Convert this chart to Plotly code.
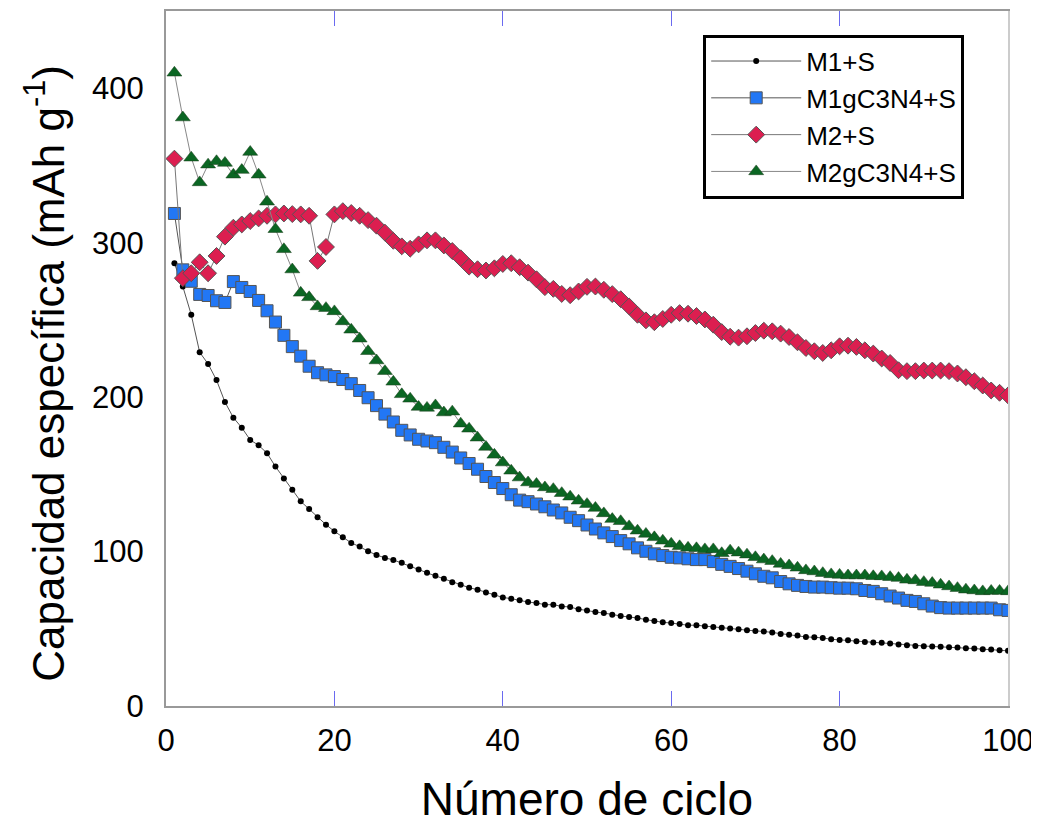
import plotly.graph_objects as go

cycles = list(range(1, 101))

m1_s = [286.6, 271.6, 253.3, 229.0, 221.5, 211.0, 196.8, 186.7, 180.2, 172.3,
        168.8, 163.7, 155.0, 147.3, 140.0, 132.5, 127.5, 122.2, 117.4, 113.1,
        109.2, 105.6, 103.2, 100.2, 97.8, 95.9, 94.6, 92.7, 90.5, 88.4,
        86.2, 84.3, 82.4, 80.2, 78.5, 76.6, 75.3, 73.5, 72.1, 70.3,
        69.5, 68.4, 67.3, 66.7, 65.6, 65.6, 64.5, 64.1, 62.6, 61.9,
        60.8, 60.2, 59.1, 58.3, 57.6, 57.0, 55.9, 55.0, 54.2, 53.7,
        53.1, 52.3, 52.3, 51.6, 51.2, 50.7, 50.1, 49.7, 49.0, 48.6,
        48.3, 47.6, 46.6, 46.2, 45.6, 44.7, 44.5, 44.1, 43.2, 42.8,
        42.6, 41.9, 41.5, 41.1, 40.9, 40.4, 39.8, 39.4, 38.9, 38.7,
        38.5, 38.3, 38.1, 37.8, 37.4, 37.2, 36.8, 36.6, 36.1, 35.7]

m1_gc3n4_s = [318.9, 282.4, 275.0, 266.5, 265.8, 262.4, 261.3, 274.8, 271.0, 268.4,
              262.6, 255.9, 248.6, 240.0, 232.7, 226.5, 220.0, 215.8, 214.4, 213.3,
              211.4, 208.7, 204.3, 199.6, 194.5, 189.0, 183.9, 178.5, 175.5, 172.7,
              171.6, 170.5, 167.5, 164.4, 160.6, 157.0, 153.3, 148.6, 144.7, 140.8,
              136.8, 133.3, 132.3, 130.8, 129.0, 126.9, 125.0, 122.2, 120.0, 117.2,
              114.6, 112.1, 109.7, 107.1, 105.0, 102.4, 100.2, 98.5, 97.4, 96.3,
              95.9, 95.3, 94.8, 94.8, 93.5, 91.7, 90.4, 89.0, 87.3, 85.6,
              84.0, 83.0, 80.6, 79.1, 78.1, 77.4, 77.0, 77.0, 76.6, 76.3,
              76.3, 75.9, 74.8, 74.2, 72.7, 71.2, 69.9, 68.4, 67.7, 66.2,
              64.7, 63.7, 63.4, 63.4, 63.4, 63.4, 63.4, 63.4, 62.3, 61.9]

m2_s = [354.4, 277.0, 280.2, 287.3, 280.2, 291.4, 303.9, 309.7, 311.8, 314.0,
        315.7, 317.4, 318.3, 318.9, 318.5, 318.3, 317.4, 288.2, 297.2, 318.3,
        320.4, 319.2, 317.4, 314.6, 311.0, 306.5, 301.2, 297.6, 296.1, 298.9,
        301.5, 301.5, 298.2, 294.6, 289.9, 284.5, 282.8, 282.0, 283.4, 286.2,
        286.7, 284.1, 280.6, 276.3, 271.2, 270.1, 266.8, 266.0, 268.4, 271.4,
        271.6, 269.5, 266.7, 263.4, 258.7, 253.3, 249.7, 248.5, 250.6, 253.3,
        254.4, 254.0, 252.5, 250.3, 246.9, 242.1, 239.1, 238.5, 239.4, 241.5,
        243.0, 242.6, 241.1, 238.9, 235.5, 231.8, 229.7, 228.6, 230.3, 232.9,
        233.3, 232.5, 230.3, 228.2, 225.0, 222.1, 217.4, 216.8, 216.8, 217.2,
        217.2, 217.2, 216.8, 215.3, 212.9, 210.3, 207.5, 204.3, 202.8, 201.1]

m2_gc3n4_s = [410.0, 381.0, 355.0, 339.0, 350.5, 352.7, 351.6, 344.0, 347.0, 358.7,
              344.0, 326.5, 308.7, 295.7, 282.6, 267.5, 264.6, 258.7, 257.6, 255.5,
              249.0, 243.6, 237.8, 229.7, 223.7, 216.8, 209.9, 201.8, 198.9, 193.6,
              193.0, 194.6, 190.0, 190.6, 182.8, 179.5, 173.7, 167.7, 162.6, 157.6,
              152.3, 147.9, 144.7, 143.7, 141.5, 140.4, 137.8, 135.5, 132.9, 130.7,
              128.2, 124.7, 121.0, 119.6, 116.3, 113.5, 111.4, 109.2, 107.0, 105.0,
              103.4, 102.4, 102.1, 101.4, 101.4, 98.9, 100.6, 99.3, 98.0, 96.3,
              94.8, 93.8, 92.0, 91.0, 89.5, 87.8, 87.1, 86.0, 85.2, 84.9,
              84.5, 84.5, 84.5, 84.0, 83.9, 83.4, 82.8, 81.7, 81.3, 80.2,
              79.6, 78.5, 77.4, 76.3, 75.3, 74.8, 74.2, 74.5, 74.5, 74.2]

x_ticks = [0, 20, 40, 60, 80, 100]
y_ticks = [0, 100, 200, 300, 400]

FONT = "Liberation Sans, Arial, sans-serif"

fig = go.Figure()
fig.add_trace(go.Scatter(
    x=cycles, y=m1_s, name="M1+S", mode="lines+markers",
    line=dict(color="#555555", width=1),
    marker=dict(symbol="circle", size=6, color="black", line=dict(width=0))))
fig.add_trace(go.Scatter(
    x=cycles, y=m1_gc3n4_s, name="M1gC3N4+S", mode="lines+markers",
    line=dict(color="#555555", width=1),
    marker=dict(symbol="square", size=12, color="#2277F5", line=dict(color="#555555", width=1))))
fig.add_trace(go.Scatter(
    x=cycles, y=m2_s, name="M2+S", mode="lines+markers",
    line=dict(color="#777777", width=1),
    marker=dict(symbol="diamond", size=13, color="#DC1E50", line=dict(color="#555555", width=1))))
fig.add_trace(go.Scatter(
    x=cycles, y=m2_gc3n4_s, name="M2gC3N4+S", mode="lines+markers",
    line=dict(color="#888888", width=1),
    marker=dict(symbol="triangle-up", size=13, color="#0B6623", line=dict(color="#1a3d1a", width=0.5))))

# invisible trace to drive the right-hand frame axis
fig.add_trace(go.Scatter(x=[50], y=[-100], yaxis="y2", mode="markers",
                         marker=dict(size=1, color="rgba(0,0,0,0)"),
                         showlegend=False, hoverinfo="skip"))

fig.update_layout(
    width=1039, height=825,
    margin=dict(l=158, r=39, t=1, b=127),
    paper_bgcolor="white", plot_bgcolor="white",
    font=dict(family=FONT, color="black"),
    showlegend=True,
    legend=dict(
        x=0.638, y=0.966, xanchor="left", yanchor="top",
        bgcolor="white", bordercolor="black", borderwidth=3,
        font=dict(size=26, family=FONT, color="black"),
        tracegroupgap=0, itemwidth=90,
    ),
    xaxis=dict(
        range=[0, 100], tickvals=x_ticks, ticktext=[str(v) for v in x_ticks],
        showgrid=False, zeroline=False,
        showline=True, linecolor="#999999", linewidth=2,
        mirror="ticks", ticks="inside", ticklen=15, tickcolor="#6a6af0", tickwidth=1,
        tickfont=dict(size=31, family=FONT, color="black"),
        ticklabelstandoff=6,
        title=dict(text="Número de ciclo", font=dict(size=46, family=FONT, color="black"), standoff=26),
    ),
    yaxis=dict(
        range=[0, 450], tickvals=y_ticks, ticktext=[str(v) for v in y_ticks],
        showgrid=False, zeroline=False,
        showline=True, linecolor="#999999", linewidth=2,
        ticks="", ticklen=0,
        tickfont=dict(size=31, family=FONT, color="black"),
        ticklabelstandoff=14,
    ),
    yaxis2=dict(
        range=[0, 450], overlaying="y", side="right",
        showgrid=False, zeroline=False, showticklabels=False, ticks="",
        showline=True, linecolor="#cccccc", linewidth=2,
    ),
    annotations=[dict(
        text="Capacidad específica (mAh g<sup>-1</sup>)",
        xref="paper", yref="paper", x=-0.1437, y=0.478,
        xanchor="center", yanchor="middle", textangle=-90, showarrow=False,
        font=dict(size=44, family=FONT, color="black"),
    )],
)

fig.write_html("out.html")
